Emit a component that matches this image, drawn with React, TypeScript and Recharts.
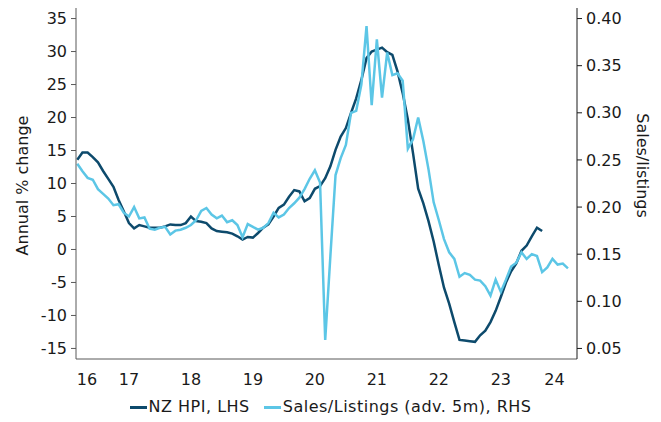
import React from "react";
import {
  LineChart,
  Line,
  XAxis,
  YAxis,
  Legend,
} from "recharts";

// x = months counted from Jan 2016 (= 0); both series start Sep 2016
const firstMonth = 8;

// NZ HPI, annual % change (LHS), Sep 2016 - Mar 2024
const hpi = [
  13.6, 14.7, 14.7, 14.0, 13.2, 11.9, 10.7, 9.5, 7.5, 5.8,
  4.0, 3.2, 3.7, 3.5, 3.3, 3.3, 3.3, 3.5, 3.8, 3.7,
  3.7, 4.0, 5.0, 4.3, 4.2, 4.0, 3.2, 2.8, 2.7, 2.6,
  2.4, 2.0, 1.5, 1.9, 1.8, 2.5, 3.3, 3.8, 5.0, 6.3,
  6.8, 8.0, 9.0, 8.8, 7.3, 7.8, 9.2, 9.6, 10.8, 12.6,
  15.1, 17.1, 18.4, 20.7, 22.9, 25.7, 29.0, 30.0, 30.3, 30.6,
  29.9, 29.5, 27.0, 23.7, 19.7, 14.6, 9.2, 7.0, 4.3, 1.2,
  -2.4, -5.8, -8.2, -11.0, -13.7, -13.8, -13.9, -14.0, -13.0, -12.3,
  -11.0, -9.3, -7.2, -5.0, -3.3, -2.1, -0.2, 0.6, 2.0, 3.3,
  2.8,
];

// Sales/listings ratio advanced 5 months (RHS), Sep 2016 - Aug 2024
const salesListings = [
  0.246, 0.238, 0.231, 0.229, 0.219, 0.214, 0.209, 0.202, 0.203, 0.194,
  0.19, 0.2, 0.188, 0.189, 0.177, 0.176, 0.178, 0.179, 0.171, 0.175,
  0.176, 0.178, 0.181, 0.186, 0.196, 0.199, 0.192, 0.188, 0.191, 0.184,
  0.186, 0.181, 0.168, 0.182, 0.179, 0.176, 0.178, 0.183, 0.194, 0.189,
  0.192, 0.199, 0.204, 0.21, 0.219, 0.23, 0.239, 0.226, 0.059, 0.148,
  0.234, 0.252, 0.266, 0.3, 0.302, 0.33, 0.392, 0.308, 0.378, 0.316,
  0.364, 0.34, 0.342, 0.334, 0.262, 0.272, 0.295, 0.27, 0.24, 0.205,
  0.186, 0.166, 0.152, 0.145, 0.126, 0.13, 0.128, 0.123, 0.122, 0.116,
  0.106, 0.123, 0.11, 0.123, 0.137, 0.141, 0.152, 0.145, 0.15, 0.148,
  0.131, 0.136, 0.145, 0.139, 0.14, 0.135,
];

const leftTicks = [-15, -10, -5, 0, 5, 10, 15, 20, 25, 30, 35];
const rightTicks = [0.05, 0.1, 0.15, 0.2, 0.25, 0.3, 0.35, 0.4];

// year boundaries get tick marks, labels sit mid-way in each visible year
const yearStarts = [12, 24, 36, 48, 60, 72, 84, 96];
const yearLabels = ["16", "17", "18", "19", "20", "21", "22", "23", "24"];
const yearLabelPos = [9.875, 18, 30, 42, 54, 66, 78, 90, 100.4];

const xDomain = [7.75, 104.75];

const DARK = "#0d4a6c";
const LIGHT = "#5cc6e6";
const FONT = "'DejaVu Sans', Verdana, sans-serif";

const data = salesListings.map((s, i) => ({
  m: firstMonth + i,
  hpi: i < hpi.length ? hpi[i] : undefined,
  sales: s,
}));

const tickStyle = { fontSize: 16, fill: "#1a1a1a", fontFamily: FONT };

function LegendRow() {
  const items = [
    { label: "NZ HPI, LHS", color: DARK },
    { label: "Sales/Listings (adv. 5m), RHS", color: LIGHT },
  ];
  return (
    <div
      style={{
        display: "flex",
        justifyContent: "center",
        gap: 14,
        fontFamily: FONT,
        fontSize: 16,
        letterSpacing: 0.5,
        color: "#1a1a1a",
        lineHeight: "22px",
      }}
    >
      {items.map((it) => (
        <div key={it.label} style={{ display: "flex", alignItems: "center" }}>
          <span
            style={{
              display: "inline-block",
              width: 17,
              height: 3,
              background: it.color,
              marginRight: 2,
            }}
          />
          <span>{it.label}</span>
        </div>
      ))}
    </div>
  );
}

export default function App() {
  return (
    <div style={{ position: "absolute", left: 0, top: 0, width: 661, height: 422 }}>
      <LineChart
        width={661}
        height={422}
        data={data}
        margin={{ top: 8, right: 0, bottom: 4, left: 0 }}
      >
        <XAxis
          dataKey="m"
          type="number"
          domain={xDomain}
          allowDataOverflow
          ticks={yearStarts}
          interval={0}
          tick={false}
          tickSize={5}
          height={5}
          axisLine={{ stroke: "#595959" }}
          tickLine={{ stroke: "#595959" }}
        />
        <XAxis
          xAxisId="years"
          dataKey="m"
          type="number"
          domain={xDomain}
          allowDataOverflow
          ticks={yearLabelPos}
          interval={0}
          tickFormatter={(v: number) => yearLabels[yearLabelPos.indexOf(v)]}
          tick={tickStyle}
          tickSize={0}
          tickMargin={10}
          axisLine={false}
          tickLine={false}
          height={32}
        />
        <YAxis
          yAxisId="l"
          orientation="left"
          width={76}
          domain={[-16.6, 36.6]}
          allowDataOverflow
          ticks={leftTicks}
          interval={0}
          tick={tickStyle}
          tickSize={5}
          tickMargin={4}
          axisLine={{ stroke: "#595959" }}
          tickLine={{ stroke: "#595959" }}
          label={{
            value: "Annual % change",
            angle: -90,
            position: "center",
            dx: -16,
            dy: 2,
            style: { fontSize: 16, fill: "#1a1a1a", fontFamily: FONT },
          }}
        />
        <YAxis
          yAxisId="r"
          orientation="right"
          width={84}
          domain={[0.0388, 0.4112]}
          allowDataOverflow
          ticks={rightTicks}
          interval={0}
          tickFormatter={(v: number) => v.toFixed(2)}
          tick={tickStyle}
          tickSize={5}
          tickMargin={4}
          axisLine={{ stroke: "#1a1a1a" }}
          tickLine={{ stroke: "#1a1a1a" }}
          label={{
            value: "Sales/listings",
            angle: 90,
            position: "center",
            dx: 24,
            dy: -18,
            style: { fontSize: 16, fill: "#1a1a1a", fontFamily: FONT },
          }}
        />
        <Legend verticalAlign="bottom" height={22} content={() => <LegendRow />} />
        <Line
          yAxisId="l"
          dataKey="hpi"
          stroke={DARK}
          strokeWidth={2.5}
          dot={false}
          isAnimationActive={false}
        />
        <Line
          yAxisId="r"
          dataKey="sales"
          stroke={LIGHT}
          strokeWidth={2.5}
          dot={false}
          isAnimationActive={false}
        />
      </LineChart>
    </div>
  );
}
